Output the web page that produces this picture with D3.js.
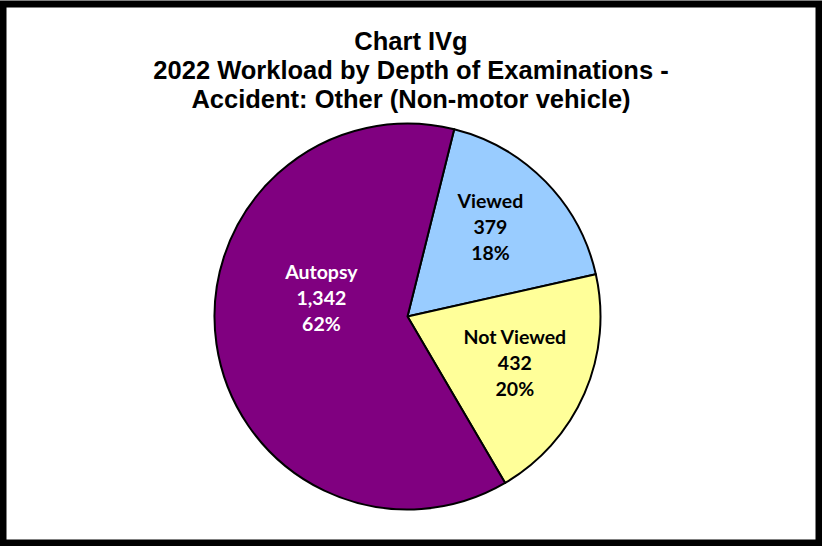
<!DOCTYPE html>
<html>
<head>
<meta charset="utf-8">
<script src="https://cdn.jsdelivr.net/npm/d3@7"></script>
<style>
  body { margin: 0; background: #fff; }
  svg { display: block; }
</style>
</head>
<body>
<svg id="chart"></svg>
<script>
// Chart data
const categories = ["Viewed", "Not Viewed", "Autopsy"];
const counts = [379, 432, 1342];
const percents = ["18%", "20%", "62%"];
const sliceColors = ["#99ccff", "#ffff99", "#800080"];
const labelColors = ["#000000", "#000000", "#ffffff"];
const titleLines = [
    "Chart IVg",
    "2022 Workload by Depth of Examinations -",
    "Accident: Other (Non-motor vehicle)"
];

const width = 822, height = 546;
const svg = d3.select("#chart")
    .attr("width", width)
    .attr("height", height);

// Outer frame
svg.append("rect")
    .attr("x", 3).attr("y", 4)
    .attr("width", width - 6).attr("height", height - 7)
    .attr("fill", "white")
    .attr("stroke", "black")
    .attr("stroke-width", 7);

// Title
svg.append("g")
    .selectAll("text")
    .data(titleLines)
    .enter()
    .append("text")
    .attr("x", 411)
    .attr("y", (d, i) => 50 + i * 29)
    .attr("text-anchor", "middle")
    .attr("font-family", "'Liberation Sans', Arial, sans-serif")
    .attr("font-weight", "bold")
    .attr("font-size", "25.5px")
    .text(d => d);

const data = categories.map((c, i) => ({
    name: c,
    value: counts[i],
    pct: percents[i],
    color: sliceColors[i],
    labelColor: labelColors[i]
}));

const radius = 193;
const cx = 407.5, cy = 316.5;

// Start first slice slightly right of 12 o'clock, like the original
const startAngle = 14 * Math.PI / 180;
const pie = d3.pie()
    .value(d => d.value)
    .sort(null)
    .startAngle(startAngle)
    .endAngle(startAngle + 2 * Math.PI);

const arc = d3.arc().innerRadius(0).outerRadius(radius);

const g = svg.append("g").attr("transform", `translate(${cx},${cy})`);

const arcs = pie(data);

g.selectAll("path")
    .data(arcs)
    .enter()
    .append("path")
    .attr("d", arc)
    .attr("fill", d => d.data.color)
    .attr("stroke", "black")
    .attr("stroke-width", 2)
    .attr("stroke-linejoin", "round");

// Label placement: radius and angle shift per slice (Excel best-fit look)
const labelRadius = { "Viewed": 122, "Not Viewed": 117, "Autopsy": 88 };
const labelShift = { "Viewed": -0.05, "Not Viewed": 0, "Autopsy": 0.35 };

const labels = g.selectAll("text.lbl")
    .data(arcs)
    .enter()
    .append("text")
    .attr("class", "lbl")
    .attr("text-anchor", "middle")
    .attr("font-family", "Lato, Carlito, sans-serif")
    .attr("font-weight", "bold")
    .attr("font-size", "19.5px")
    .attr("fill", d => d.data.labelColor)
    .attr("transform", d => {
        const a = (d.startAngle + d.endAngle) / 2 + labelShift[d.data.name];
        const r = labelRadius[d.data.name];
        return `translate(${r * Math.sin(a)},${-r * Math.cos(a)})`;
    });

labels.each(function (d) {
    const lines = [d.data.name, d3.format(",")(d.data.value), d.data.pct];
    d3.select(this).selectAll("tspan")
        .data(lines)
        .enter()
        .append("tspan")
        .attr("x", 0)
        .attr("y", (l, i) => (i - 1) * 26 + 7)
        .text(l => l);
});
</script>
</body>
</html>
